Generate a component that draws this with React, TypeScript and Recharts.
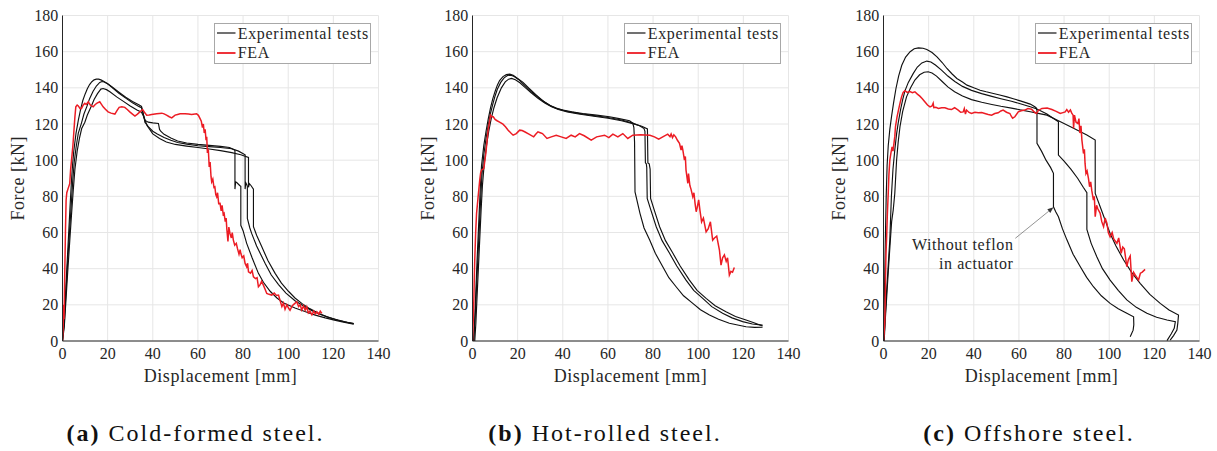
import React from 'react';
import {
  LineChart, Line, XAxis, YAxis, CartesianGrid, Legend, ReferenceLine, ReferenceDot,
} from 'recharts';

type Pt = [number, number];

// ---- axis ticks ----
const xMajor = [0, 20, 40, 60, 80, 100, 120, 140];
const yMajor = [0, 20, 40, 60, 80, 100, 120, 140, 160, 180];
const xMinor = [0, 5, 10, 15, 20, 25, 30, 35, 40, 45, 50, 55, 60, 65, 70, 75, 80, 85, 90, 95, 100, 105, 110, 115, 120, 125, 130, 135, 140];
const yMinor = [0, 5, 10, 15, 20, 25, 30, 35, 40, 45, 50, 55, 60, 65, 70, 75, 80, 85, 90, 95, 100, 105, 110, 115, 120, 125, 130, 135, 140, 145, 150, 155, 160, 165, 170, 175, 180];

const panelTags = ['(a)', '(b)', '(c)'];
const panelTitles = ['Cold-formed steel.', 'Hot-rolled steel.', 'Offshore steel.'];

// ---- (a) cold-formed ----
const coldExp1: Pt[] = [[0, 0], [0.5, 8], [1, 18], [1.5, 30], [2, 42], [2.5, 54], [3, 66], [3.5, 78], [4, 89], [4.5, 98], [5, 105], [6, 115], [7, 122], [8, 128], [9, 133], [10, 136.5], [11, 139.5], [12, 141.8], [13, 143.4], [14, 144.4], [15, 144.8], [16, 144.8], [17, 144.4], [18, 143.8], [20, 142.3], [22, 140.5], [25, 137.6], [28, 134.8], [31, 132.4], [34, 130.5], [35, 129.8], [35.6, 127], [36, 124], [36.6, 122], [38, 121], [40, 120.6], [42.5, 120.3], [43, 117], [43.5, 116], [45, 114.3], [48, 112.2], [51, 110.6], [55, 109.5], [60, 108.7], [65, 108.2], [70, 107.6], [74, 107], [76.4, 105.5], [76.4, 84], [76.7, 88], [77.3, 87.5], [78.5, 86], [79, 85.5], [79, 64], [80, 61], [81.6, 54], [84, 46], [86.8, 37.4], [89, 32.5], [92, 27.5], [95, 23.8], [98, 21], [103, 18.2], [108, 16], [112, 14.3], [116.4, 12.8], [120, 11.7], [124, 10.6], [129, 9.3]];
const coldExp2: Pt[] = [[0, 0], [0.8, 10], [1.5, 26], [2.2, 42], [3, 58], [3.8, 74], [4.5, 88], [5.2, 99], [6, 107], [7, 115], [8.4, 120.5], [9.5, 125.5], [10.9, 130], [12, 134], [13.5, 138], [15, 141], [16.5, 143], [17.5, 143.5], [18.5, 143.2], [20, 142.2], [22, 140.2], [25, 137], [28, 134.3], [31, 131.8], [34, 129.6], [35, 129], [36, 124.5], [36.5, 121], [38, 118.5], [40, 116], [42, 114.5], [45, 112.5], [48, 111], [51, 109.8], [55, 108.9], [60, 108], [65, 107.5], [70, 107], [75, 106.3], [78, 105], [80.9, 103], [80.9, 84], [81.2, 87.5], [81.6, 86.5], [81.9, 85.5], [81.9, 67.8], [83, 62.5], [83.8, 59.5], [86, 52.5], [89.8, 42.9], [92.5, 36.5], [95.7, 31.2], [99, 26.5], [103, 22.3], [107, 19.2], [110.5, 16.8], [114, 14.8], [118, 13], [122, 11.6], [126, 10.4], [129, 9.6]];
const coldExp3: Pt[] = [[0, 0], [0.8, 8], [1.5, 22], [2.3, 38], [3.2, 55], [4, 70], [4.8, 84], [5.5, 95], [6.5, 105], [7.5, 112], [8.5, 117.5], [9.9, 121], [11, 125], [12.8, 130], [14, 133.5], [15.5, 136.8], [17, 139.3], [18, 139.6], [19.5, 139], [21, 137.8], [24, 135], [27, 132.5], [30, 130], [33, 127.8], [35, 126.5], [36, 124], [37.5, 119], [40, 114.5], [43, 112], [46, 110], [50, 108.7], [55, 107.8], [60, 107], [65, 106.2], [70, 105.3], [75, 104.2], [79, 103], [82.4, 101.5], [82.4, 85], [82.8, 87], [83.5, 86], [84.6, 84], [84.6, 63.2], [86, 58.5], [88.3, 52.1], [91, 44.5], [94.2, 37.4], [97, 32], [100.1, 27.5], [103, 23.8], [106, 20.8], [109.5, 17.9], [113.4, 15.3], [117, 13.5], [121, 11.8], [125, 10.6], [129, 9.6]];
const coldFea: Pt[] = [[0, 0], [0.3, 8], [0.5, 20], [0.7, 12], [0.9, 30], [1.1, 45], [1.3, 60], [1.6, 78], [1.9, 82], [2.4, 84], [3.2, 87], [3.6, 95], [4, 100], [4.6, 108], [5, 115], [5.5, 124], [5.9, 129.5], [6.5, 130.5], [7, 130], [7.8, 128.5], [8.4, 128.6], [9.2, 130.5], [9.9, 131.4], [10.5, 130.8], [11.4, 132.3], [12.3, 130.5], [13.6, 129.5], [14.5, 130.8], [15.3, 131.5], [16.5, 132.3], [17.2, 131], [18, 129.5], [19, 128.2], [20.2, 126.7], [21.5, 126], [23.2, 125.5], [24.2, 127.5], [25.1, 129.2], [26.3, 129.5], [27.6, 129.2], [28.7, 128], [29.8, 126.7], [31, 125.5], [32.1, 124.4], [33.2, 125.5], [34.3, 126.7], [35.5, 128], [36.3, 126.5], [37.3, 124.9], [38.4, 125], [39.5, 125.3], [41.7, 125.7], [44, 126], [45, 125.6], [46.1, 124.9], [47.3, 124], [48.4, 123.4], [49.9, 124.9], [51, 125.3], [52.1, 125.7], [54.3, 125.7], [55.8, 125.5], [57.2, 125.3], [59.4, 125.7], [60.2, 124.8], [60.9, 123.1], [61.5, 121.5], [62, 118], [62.4, 120], [62.8, 115], [63.2, 117], [63.6, 111], [63.9, 113], [64.2, 104], [64.6, 106], [65, 96.3], [65.4, 99], [65.8, 91], [66.1, 88], [66.6, 89.5], [67.1, 85], [67.5, 85.3], [67.9, 81], [68.3, 79.8], [68.7, 82], [69.2, 76], [69.8, 76.1], [70.3, 72], [70.7, 75], [71.2, 70], [71.6, 70.6], [72.1, 66], [72.5, 68], [72.8, 62], [73.3, 55], [73.7, 63], [74.2, 59.5], [74.8, 57], [75.2, 60], [75.7, 55.8], [76.3, 53], [77, 54], [77.5, 51.2], [78.2, 48], [78.7, 50.5], [79, 48.5], [79.6, 46], [80.3, 47], [80.9, 42.9], [81.6, 41], [82, 43], [82.4, 38.3], [83.3, 37.5], [84, 39], [84.6, 35.5], [85.5, 34.5], [86.2, 35], [86.8, 30], [87.5, 31], [88.2, 33], [89, 30.9], [89.8, 28.5], [90.5, 26.3], [91.5, 25.8], [92.7, 25.4], [93.8, 26.5], [94.8, 25.2], [95.7, 25.4], [96.5, 22], [97.2, 19], [97.9, 21], [98.6, 17.5], [99.4, 20], [100.2, 18.1], [100.8, 17], [101.8, 19.5], [102.7, 20.5], [103.8, 21.7], [104.6, 19], [105.3, 20], [106, 17.1], [106.8, 19.5], [107.5, 17], [108.2, 18.9], [108.9, 15.5], [109.6, 16.5], [110.5, 14.4], [111.3, 16.5], [112, 15], [112.7, 16.2], [113.5, 14.8], [114.2, 16.5], [114.9, 15.3]];

// ---- (b) hot-rolled ----
const hotExp1: Pt[] = [[0.5, 0], [1, 12], [1.5, 28], [2, 44], [2.5, 58], [3, 72], [3.5, 86], [4, 97], [5, 108], [6, 116], [7, 123], [8, 129], [9, 134], [10, 138], [11, 141.5], [12, 144], [13.5, 146.2], [15, 147.3], [16.5, 147.6], [18, 147], [20, 145.2], [22.4, 143], [25, 139.8], [28.3, 136], [31, 133], [34.2, 130.4], [37, 128.8], [40.1, 127.7], [44, 126.7], [48.9, 125.8], [55, 124.9], [60.7, 124], [65, 123], [69.6, 121.8], [71, 120.5], [71.5, 118], [71.8, 110], [72, 82.5], [74.2, 70.6], [76, 62.5], [78.5, 55.8], [81, 48.5], [84.3, 41.1], [87, 35], [90.2, 30], [93.5, 25], [97.6, 20.8], [101, 17.3], [105, 14.4], [109, 12], [113.8, 9.8], [118, 8.7], [121.2, 7.9], [125, 7.5], [128.5, 7.6]];
const hotExp2: Pt[] = [[0.5, 0], [1.2, 14], [1.8, 30], [2.4, 46], [3, 62], [3.6, 78], [4.2, 92], [5, 103], [6, 112], [7, 119.5], [8, 126], [9, 131], [10, 135.5], [11, 139.2], [12.5, 143], [14, 145.5], [15.5, 146.8], [17, 147], [18.5, 146.3], [20.5, 144.5], [23, 141.5], [26, 138], [29, 134.8], [32, 132], [35, 129.8], [38, 128.3], [42, 127], [47, 125.9], [53, 124.8], [60, 123.6], [66, 122.2], [71, 120.5], [74, 119], [76, 117.5], [76.4, 116], [76.6, 98.5], [77, 98], [77.2, 96], [77.4, 78.9], [79, 72.5], [81.4, 63.2], [84, 55.5], [87.3, 48.5], [90.5, 41.5], [94.6, 33.7], [98, 28], [102, 23.6], [106, 19], [110.8, 15.3], [115, 12.8], [119.7, 10.7], [124, 9.4], [128.5, 8.8]];
const hotExp3: Pt[] = [[1, 0], [1.5, 10], [2, 24], [2.6, 40], [3.2, 56], [3.8, 72], [4.4, 86], [5.2, 98], [6.2, 108], [7.2, 116], [8.3, 123], [9.5, 129], [10.9, 134.5], [12.8, 140], [14.5, 143.3], [16, 144.8], [17.3, 145.2], [19, 144.5], [21, 142.8], [23.5, 140], [26, 137.3], [29, 134.2], [32, 131.6], [35, 129.5], [38, 128], [42, 126.7], [47, 125.5], [53, 124.4], [60, 123.2], [66, 121.8], [71, 120.2], [75, 118.8], [77.5, 117.3], [77.7, 98.5], [78.3, 98], [78.7, 95], [78.9, 78.9], [80.5, 72.5], [82.9, 63.2], [85.5, 55.5], [88.8, 48.5], [92, 41.5], [96.1, 33.7], [99.5, 28], [103.5, 23.6], [107.5, 19.5], [112.3, 16.2], [116.5, 13.5], [121.2, 11.6], [125, 10], [128.5, 8.3]];
const hotFea: Pt[] = [[0, 0], [0.3, 10], [0.6, 22.7], [0.8, 35], [1, 44.8], [1.4, 60], [1.8, 70.6], [2.5, 79.8], [3.2, 89], [3.6, 93], [4, 94.5], [5, 95.4], [5.5, 100], [5.9, 103.7], [6.4, 110], [6.9, 116.6], [7.5, 121], [8, 124.9], [8.5, 124], [9.2, 124], [10, 122.5], [10.9, 121.8], [12, 121], [13.5, 119.9], [14.6, 118.5], [15.8, 116.6], [17, 115], [18, 113.8], [19.4, 114.7], [20.9, 116.6], [22, 116.4], [23.1, 115.7], [25, 114.4], [27.1, 112.9], [28, 114.3], [29, 115.7], [30, 115.2], [31, 114.7], [33, 112], [34.9, 112.9], [37.1, 113.8], [39.3, 112.9], [41.5, 112], [43.7, 113.8], [45.5, 112.9], [47.4, 114.7], [49.5, 113.5], [52.6, 111.1], [55, 112.9], [58.5, 113.8], [60.4, 112.5], [62.2, 114.4], [64.4, 112.9], [66.6, 114.7], [68.8, 112], [71, 113.8], [74.5, 114], [78.6, 113.8], [80.6, 112.9], [82.5, 111.6], [84.5, 113], [86.5, 114.4], [87.5, 113], [88, 114.5], [88.6, 112.5], [89.2, 114], [90, 112.9], [90.8, 111], [91.7, 109.3], [92.4, 105.6], [92.8, 108], [93.2, 105.6], [93.9, 100], [94.3, 102], [94.6, 94.5], [95.4, 87.2], [95.7, 92.6], [96.3, 86], [96.8, 84], [97.6, 79.8], [98.1, 82], [98.6, 76.1], [99.1, 71.5], [99.6, 74], [100.2, 78], [100.8, 72], [101.5, 65.9], [102.3, 68], [103.5, 60.4], [104.4, 62], [105.4, 65.9], [106.4, 55.8], [107.2, 57], [108.2, 58], [109.4, 50.3], [110.1, 42], [110.8, 46], [111.6, 47.6], [112.4, 44], [113, 46], [113.8, 36.5], [114.5, 38.5], [115.2, 38], [116, 40.7]];

// ---- (c) offshore ----
const offExp1: Pt[] = [[0, 0], [0.4, 25], [0.8, 55], [1.2, 80], [1.6, 97], [2.1, 108], [2.8, 117], [3.6, 124.5], [4.5, 132], [5.5, 139.5], [6.7, 146.5], [8.1, 152.5], [9.8, 157], [11.8, 160], [13.6, 161.6], [15.5, 162.1], [17.5, 161.9], [19.2, 161.2], [21.5, 159.5], [23.7, 157.1], [26, 154], [28.1, 150.7], [30.3, 147.8], [32.5, 145.2], [35, 143.2], [37, 141.5], [40, 140], [42.8, 138.7], [45.5, 137.8], [48.7, 136.9], [51.5, 136], [54.7, 135], [57.5, 134], [60.6, 132.8], [63, 131.8], [65, 131], [66.5, 130], [67.6, 129], [68, 127.5], [68, 109.3], [70, 105], [72, 100], [74, 96], [75.3, 92.7], [75.3, 74.2], [76.3, 71.5], [77.5, 68.7], [79.3, 62], [81.3, 55.8], [84, 48], [87.2, 41.1], [90, 35.2], [93, 30], [96.5, 25], [100.4, 20.8], [104, 17.8], [107.8, 15.3], [110.8, 13.4], [110.9, 9], [110.6, 6], [109.3, 2.4]];
const offExp2: Pt[] = [[0.2, 0], [0.8, 14], [1.4, 28], [2, 40], [2.8, 56], [3.5, 80], [4.2, 95], [5, 105.6], [5.8, 114.5], [6.5, 120.5], [7.5, 127.5], [8.5, 133.5], [9.5, 138.3], [11, 143], [13.2, 148], [15, 151.5], [17, 153.8], [19.2, 154.8], [21, 154.3], [23, 152.6], [25.7, 149.8], [28.5, 146.5], [31.6, 143.5], [35, 140.8], [39, 138.6], [43.5, 136.8], [48, 135.3], [52, 134], [56.7, 132.6], [60.6, 131.2], [65, 129.5], [68, 128.3], [72.4, 125.5], [75, 123.3], [77.5, 121.2], [77.5, 102.8], [80, 99.5], [83, 95], [86, 90], [88.5, 85], [90.1, 82], [90.1, 61.7], [92, 54], [94.5, 46.6], [97, 40], [100.4, 33.7], [104, 28], [107.8, 22.7], [112, 18.6], [116.7, 15.3], [121, 13.1], [125.6, 11.6], [129.3, 10.7], [128.8, 7], [127.5, 4], [125.6, 0.2]];
const offExp3: Pt[] = [[0.3, 0], [0.8, 12], [1.5, 26], [2.2, 40], [3, 55], [3.6, 66], [4.3, 72.4], [5, 81.6], [5.8, 100], [6.5, 110], [7.3, 118.5], [8.5, 127], [10.2, 135], [12, 140], [13.9, 144.3], [16, 147.2], [18, 148.6], [19.8, 148.9], [21.5, 148.2], [23.5, 146.5], [26, 143.5], [28.5, 140.5], [31.5, 137.8], [35, 135.5], [39, 133.5], [43.5, 132], [48, 130.8], [52, 129.8], [56.7, 128.8], [60.6, 127.8], [65, 126.8], [68, 126], [72.4, 124.9], [77.5, 121.8], [84.2, 117.6], [90.1, 113.9], [93.8, 111.1], [93.8, 81.6], [96, 74.2], [98, 67.5], [100.4, 59.5], [103, 52.5], [106.4, 44.8], [110, 37.8], [113.7, 31.9], [118, 25.8], [122.6, 20.8], [126.5, 17.2], [130.7, 14.4], [130.4, 10], [130, 6.1], [128.5, 3], [127, 0.5]];
const offFea: Pt[] = [[0, 0], [0.3, 5], [0.6, 11.6], [0.8, 25], [0.9, 35.5], [1.1, 48], [1.4, 57.6], [1.7, 70], [2.1, 81.6], [2.4, 92], [2.8, 100], [3.3, 104], [3.8, 107.4], [4.2, 105], [4.7, 110], [5, 113], [5.3, 118.5], [6, 124], [6.8, 128.6], [7.4, 132], [8, 135], [8.7, 137.5], [9.5, 138.4], [10.5, 137.5], [11.7, 137.9], [12.8, 137.3], [13.9, 137.8], [15, 136.5], [16.1, 135.4], [17.2, 134], [18.3, 132.3], [19.5, 130.5], [20.6, 129.5], [21.5, 130], [22, 131.5], [22.3, 129], [23.2, 129.2], [24.3, 128.6], [25.8, 129], [27.2, 129], [28.7, 128.3], [30.1, 128], [31.5, 129], [33.1, 127.7], [34.2, 126.5], [35.3, 126.7], [35.8, 128.5], [36.3, 125.5], [36.8, 127.7], [37.9, 126.4], [39, 125.8], [40.5, 126.5], [42, 126.2], [43.5, 126.3], [44.9, 125.8], [46.4, 125.3], [47.9, 124.9], [49.3, 125.8], [50.8, 126.2], [52, 127.2], [53, 127.7], [54.5, 126.5], [56, 125.8], [56.6, 124.3], [57.2, 123.2], [58.2, 124], [59.7, 126.7], [61, 127.3], [62.6, 127.7], [64, 128.5], [65.6, 128.2], [66.5, 127], [67.2, 126.3], [67.8, 125.8], [68.6, 127.5], [70.2, 128.6], [72.5, 128.8], [74.6, 128], [76.5, 127], [78.3, 125.8], [79.5, 126.3], [80.5, 126.7], [81.2, 128], [82, 126.5], [82.8, 127.8], [83.4, 126], [84, 124.9], [84.2, 117.6], [84.6, 124.9], [85.3, 121], [86.1, 120.3], [86.6, 123], [87, 115], [87.5, 119], [87.9, 111.1], [88.6, 103.7], [89, 106], [89.3, 98.2], [89.7, 92.6], [90.2, 94], [90.8, 89.9], [91.3, 85.3], [91.8, 88], [92.3, 83], [93, 77.9], [93.4, 80], [93.8, 68.7], [94.4, 75], [95, 73], [96, 70.6], [96.7, 66], [97.5, 63.2], [98.2, 68], [99, 65], [99.6, 60], [100.4, 57.6], [101.3, 60], [102, 56.5], [103.4, 54], [104.2, 57], [105.3, 48.5], [106, 52], [106.7, 51], [107.8, 41.1], [108.5, 45], [109.3, 47], [110, 32.8], [110.8, 38], [111.5, 36.5], [112.3, 35], [113, 33.7], [113.8, 37.5], [114.5, 38], [115.2, 38.8], [115.9, 39.6]];

// annotation in (c): arrow tail/head and text anchor, in data units
const noteArrow: Pt[] = [[58.4, 56.8], [75.3, 73.9]];
const noteAt: Pt = [57.6, 50.3];
const noteLines = ['Without teflon', 'in actuator'];

const FONT = "'Liberation Serif', 'DejaVu Serif', serif";
const INK = '#262626';
const RED = '#ec1c24';
const CHART_W = 400;
const CHART_H = 400;
const PLOT_LEFT = 62.5;
const PLOT_TOP = 15.5;
const PLOT_W = 316;
const PLOT_H = 325.5;
const X_AXIS_H = 50;
const TICK = 3.5;

const toPts = (d: Pt[]) => d.map(([x, y]) => ({ x, y }));

const BottomTick = ({ x, y, payload }: any) => (
  <text x={x} y={y + 18.3} textAnchor="middle" fill={INK} style={{ fontFamily: FONT, fontSize: 16 }}>
    {payload.value}
  </text>
);

const LeftTick = ({ x, y, payload }: any) => (
  <text x={x - 4.3} y={y + 5.5} textAnchor="end" fill={INK} style={{ fontFamily: FONT, fontSize: 16 }}>
    {payload.value}
  </text>
);

// top axis draws the minor/major marks on both top and bottom edges
const TopTick = ({ x, y }: any) => (
  <g>
    <line x1={x} y1={y} x2={x} y2={y + TICK} stroke={INK} strokeWidth={1} />
    <line x1={x} y1={y + PLOT_H} x2={x} y2={y + PLOT_H - TICK} stroke={INK} strokeWidth={1} />
  </g>
);

// right axis draws the marks on both right and left edges
const RightTick = ({ x, y }: any) => (
  <g>
    <line x1={x} y1={y} x2={x - TICK} y2={y} stroke={INK} strokeWidth={1} />
    <line x1={x - PLOT_W} y1={y} x2={x - PLOT_W + TICK} y2={y} stroke={INK} strokeWidth={1} />
  </g>
);

const xLabel = (props: any) => {
  const vb = props.viewBox || { x: PLOT_LEFT, y: PLOT_TOP + PLOT_H, width: PLOT_W, height: X_AXIS_H };
  return (
    <text x={vb.x + vb.width / 2} y={vb.y + 40.5} textAnchor="middle" fill={INK}
      style={{ fontFamily: FONT, fontSize: 18, letterSpacing: 0.6 }}>
      Displacement [mm]
    </text>
  );
};

const yLabel = (props: any) => {
  const vb = props.viewBox || { x: 0, y: PLOT_TOP, width: PLOT_LEFT, height: PLOT_H };
  const cx = vb.x + 23.5;
  const cy = vb.y + vb.height / 2;
  return (
    <text x={cx} y={cy} transform={`rotate(-90 ${cx} ${cy})`} textAnchor="middle" fill={INK}
      style={{ fontFamily: FONT, fontSize: 18, letterSpacing: 0.5 }}>
      Force [kN]
    </text>
  );
};

const LegendBox = ({ payload }: any) => {
  const seen: string[] = [];
  const items = (payload || []).filter((p: any) => {
    if (seen.includes(p.value)) return false;
    seen.push(p.value);
    return true;
  });
  return (
    <div style={{
      boxSizing: 'border-box', width: 157, height: 41, border: '1px solid #a8a8a8', background: '#fff',
      fontFamily: FONT, fontSize: 16, letterSpacing: 0.7, color: INK, lineHeight: '19.5px',
    }}>
      {items.map((it: any) => (
        <div key={it.value} style={{ display: 'flex', alignItems: 'center', height: 19.5 }}>
          <svg width={21} height={6} style={{ marginLeft: 1.4, flex: 'none' }}>
            <line x1={0} y1={3} x2={18.5} y2={3} stroke={it.color}
              strokeWidth={it.color === RED ? 1.8 : 1.2} />
          </svg>
          <span style={{ whiteSpace: 'nowrap' }}>{it.value}</span>
        </div>
      ))}
    </div>
  );
};

const Arrow = (props: any) => {
  const { x1, y1, x2, y2 } = props;
  const a = Math.atan2(y2 - y1, x2 - x1);
  const L = 6;
  const W = 2.4;
  const bx = x2 - L * Math.cos(a);
  const by = y2 - L * Math.sin(a);
  const px = -Math.sin(a) * W;
  const py = Math.cos(a) * W;
  return (
    <g>
      <line x1={x1} y1={y1} x2={bx} y2={by} stroke="#666" strokeWidth={0.7} />
      <polygon points={`${x2},${y2} ${bx + px},${by + py} ${bx - px},${by - py}`} fill="#333" />
    </g>
  );
};

const noteLabel = (props: any) => {
  const vb = props.viewBox || { x: 0, y: 0 };
  return (
    <text textAnchor="end" fill={INK} style={{ fontFamily: FONT, fontSize: 16, letterSpacing: 0.6 }}>
      <tspan x={vb.x} y={vb.y}>{noteLines[0]}</tspan>
      <tspan x={vb.x} y={vb.y + 19}>{noteLines[1]}</tspan>
    </text>
  );
};

function Panel({ left, exp, fea, note }: { left: number; exp: Pt[][]; fea: Pt[]; note?: boolean }) {
  return (
    <div style={{ position: 'absolute', left, top: 0 }}>
      <LineChart
        width={CHART_W}
        height={CHART_H}
        margin={{
          top: PLOT_TOP,
          left: 0,
          right: CHART_W - PLOT_LEFT - PLOT_W,
          bottom: CHART_H - PLOT_TOP - PLOT_H - X_AXIS_H,
        }}
      >
        <CartesianGrid stroke="#e6e6e6" strokeWidth={1} />
        <XAxis dataKey="x" type="number" domain={[0, 140]} ticks={xMajor} interval={0} allowDataOverflow
          height={X_AXIS_H} tickSize={0} tickMargin={0} tickLine={false}
          axisLine={{ stroke: INK, strokeWidth: 1 }} tick={BottomTick} label={{ content: xLabel }} />
        <XAxis xAxisId="t" orientation="top" type="number" domain={[0, 140]} ticks={xMinor} interval={0}
          allowDataOverflow height={0} tickSize={0} tickMargin={0} tickLine={false}
          axisLine={{ stroke: INK, strokeWidth: 1 }} tick={TopTick} />
        <YAxis type="number" domain={[0, 180]} ticks={yMajor} interval={0} allowDataOverflow
          width={PLOT_LEFT} tickSize={0} tickMargin={0} tickLine={false}
          axisLine={{ stroke: INK, strokeWidth: 1 }} tick={LeftTick} label={{ content: yLabel }} />
        <YAxis yAxisId="r" orientation="right" type="number" domain={[0, 180]} ticks={yMinor} interval={0}
          allowDataOverflow width={0} tickSize={0} tickMargin={0} tickLine={false}
          axisLine={{ stroke: INK, strokeWidth: 1 }} tick={RightTick} />
        {exp.map((d, i) => (
          <Line key={i} data={toPts(d)} dataKey="y" name="Experimental tests" type="linear"
            stroke="#111" strokeWidth={1.15} dot={false} activeDot={false} isAnimationActive={false} />
        ))}
        <Line data={toPts(fea)} dataKey="y" name="FEA" type="linear" stroke={RED} strokeWidth={1.5}
          dot={false} activeDot={false} isAnimationActive={false} />
        {note && (
          <ReferenceLine
            segment={[{ x: noteArrow[0][0], y: noteArrow[0][1] }, { x: noteArrow[1][0], y: noteArrow[1][1] }]}
            shape={Arrow}
          />
        )}
        {note && (
          <ReferenceDot x={noteAt[0]} y={noteAt[1]} r={0} fill="none" stroke="none"
            label={{ content: noteLabel }} />
        )}
        <Legend layout="horizontal" verticalAlign="middle" align="center" content={LegendBox}
          wrapperStyle={{ left: 214.3, top: 22.7, width: 157, height: 41 }} />
      </LineChart>
    </div>
  );
}

const captionX = [195.5, 605, 1029];

export default function App() {
  return (
    <div style={{ position: 'absolute', left: 0, top: 0, width: 1217, height: 451, overflow: 'hidden', background: '#fff' }}>
      <svg width={1217} height={451} style={{ position: 'absolute', left: 0, top: 0 }}>
        {panelTitles.map((t, i) => (
          <text key={t} x={captionX[i]} y={441} textAnchor="middle" fill="#111"
            style={{ fontFamily: FONT, fontSize: 24, letterSpacing: 2 }}>
            <tspan fontWeight="bold">{panelTags[i]}</tspan> {t}
          </text>
        ))}
      </svg>
      <Panel left={0} exp={[coldExp1, coldExp2, coldExp3]} fea={coldFea} />
      <Panel left={410} exp={[hotExp1, hotExp2, hotExp3]} fea={hotFea} />
      <Panel left={821} exp={[offExp1, offExp2, offExp3]} fea={offFea} note />
    </div>
  );
}
